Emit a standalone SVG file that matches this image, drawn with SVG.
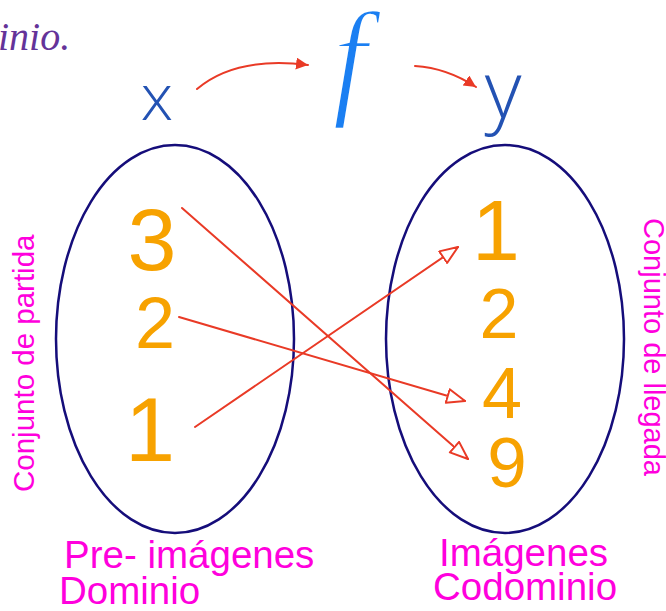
<svg xmlns="http://www.w3.org/2000/svg" width="666" height="611" viewBox="0 0 666 611">
  <style>
    .set { fill: none; stroke: #150d7a; stroke-width: 2.5; }
    .num { font-family: "Liberation Sans", Arial, sans-serif; fill: #f7a200; text-anchor: middle; }
    .lbl { font-family: "Liberation Sans", Arial, sans-serif; fill: #ff00dd; }
    .hand { font-family: "Open Sans", "Liberation Sans", sans-serif; font-weight: 300; text-anchor: middle; }
    .conn { fill: none; stroke: #e93a26; stroke-width: 2; stroke-linecap: round; }
  </style>
  <defs>
    <marker id="openArrow" markerUnits="userSpaceOnUse" markerWidth="22" markerHeight="18" refX="19" refY="8" orient="auto">
      <path d="M1,1 L19,8 L1,15 Z" fill="#fff" stroke="#e93a26" stroke-width="2" stroke-linejoin="round"/>
    </marker>
    <marker id="fillArrow" markerUnits="userSpaceOnUse" markerWidth="14" markerHeight="13" refX="12" refY="6" orient="auto">
      <path d="M0,0 L12,6 L0,12 Z" fill="#e93a26"/>
    </marker>
  </defs>

  <rect width="666" height="611" fill="#fff"/>

  <text id="title" x="-2" y="50" font-family="Liberation Serif, serif" font-style="italic" font-size="40" fill="#643399">inio.</text>

  <g id="var-x"><text class="hand" x="157" y="120" font-size="65" fill="#2352b3">x</text></g>
  <g id="func-f"><text transform="translate(350,101) scale(0.95,1)" font-family="Liberation Serif, serif" font-style="italic" font-size="130" fill="#1b7ff2" stroke="#fff" stroke-width="2.5" text-anchor="middle">f</text></g>
  <g id="var-y"><text class="hand" x="503" y="118" font-size="80" fill="#2352b3">y</text></g>

  <g id="domain">
    <ellipse class="set" cx="175" cy="339" rx="119" ry="194"/>
    <text class="num" x="152" y="270" font-size="88">3</text>
    <text class="num" x="155" y="348" font-size="72">2</text>
    <text class="num" x="150" y="461" font-size="90">1</text>
  </g>

  <g id="codomain">
    <ellipse class="set" cx="505" cy="339" rx="119" ry="194"/>
    <text class="num" x="496" y="260" font-size="86">1</text>
    <text class="num" x="499" y="338" font-size="70">2</text>
    <text class="num" x="502" y="418" font-size="72">4</text>
    <text class="num" x="507" y="487" font-size="71">9</text>
  </g>

  <g id="connectors">
    <path class="conn" d="M197,89 Q236,56 308,65" marker-end="url(#fillArrow)"/>
    <path class="conn" d="M415,66 Q447,68 476,87" marker-end="url(#fillArrow)"/>
    <line class="conn" x1="182" y1="208" x2="468" y2="459" marker-end="url(#openArrow)"/>
    <line class="conn" x1="179" y1="317" x2="465" y2="401" marker-end="url(#openArrow)"/>
    <line class="conn" x1="195" y1="427" x2="458" y2="247" marker-end="url(#openArrow)"/>
  </g>

  <g id="labels">
    <text class="lbl" transform="translate(34,492) rotate(-90)" font-size="29.5">Conjunto de partida</text>
    <text class="lbl" transform="translate(644,218) rotate(90)" font-size="29">Conjunto de llegada</text>
    <text class="lbl" x="64" y="568" font-size="38.5">Pre- imágenes</text>
    <text class="lbl" x="59" y="604" font-size="38.5">Dominio</text>
    <text class="lbl" x="439" y="566" font-size="38.5">Imágenes</text>
    <text class="lbl" x="433" y="600" font-size="38.5">Codominio</text>
  </g>
</svg>
